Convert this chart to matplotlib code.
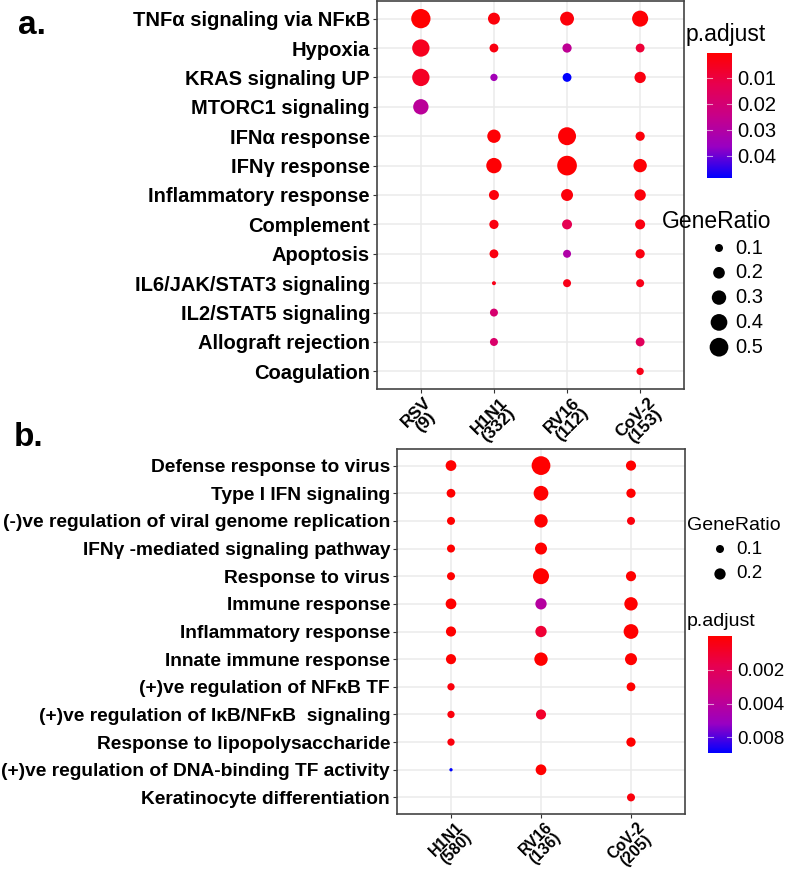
import numpy as np
import matplotlib
matplotlib.use('Agg')
import matplotlib.pyplot as plt
from matplotlib.colors import LinearSegmentedColormap, Normalize, LogNorm
from matplotlib.cm import ScalarMappable

plt.rcParams['font.family'] = ['Liberation Sans', 'DejaVu Sans']

nan = np.nan

# ---- panel a: hallmark gene sets ----
a_terms = ['TNFα signaling via NFκB', 'Hypoxia', 'KRAS signaling UP', 'MTORC1 signaling',
           'IFNα response', 'IFNγ response', 'Inflammatory response', 'Complement',
           'Apoptosis', 'IL6/JAK/STAT3 signaling', 'IL2/STAT5 signaling',
           'Allograft rejection', 'Coagulation']
a_groups = ['RSV\n(9)', 'H1N1\n(332)', 'RV16\n(112)', 'CoV-2\n(153)']
# GeneRatio, columns: RSV, H1N1, RV16, CoV-2
a_ratio = np.array([
    [0.53, 0.21, 0.28, 0.37],
    [0.43, 0.12, 0.13, 0.12],
    [0.43, 0.085, 0.12, 0.19],
    [0.34, nan, nan, nan],
    [nan, 0.26, 0.46, 0.13],
    [nan, 0.34, 0.55, 0.26],
    [nan, 0.15, 0.21, 0.19],
    [nan, 0.13, 0.15, 0.15],
    [nan, 0.12, 0.10, 0.13],
    [nan, 0.033, 0.10, 0.10],
    [nan, 0.10, nan, nan],
    [nan, 0.10, nan, 0.12],
    [nan, nan, nan, 0.085],
])
a_padj = np.array([
    [0.0004, 0.002, 0.002, 0.001],
    [0.005, 0.003, 0.027, 0.009],
    [0.006, 0.034, 0.0485, 0.003],
    [0.028, nan, nan, nan],
    [nan, 0.001, 0.001, 0.002],
    [nan, 0.001, 0.0008, 0.001],
    [nan, 0.002, 0.002, 0.002],
    [nan, 0.003, 0.013, 0.003],
    [nan, 0.003, 0.031, 0.003],
    [nan, 0.004, 0.004, 0.004],
    [nan, 0.019, nan, nan],
    [nan, 0.018, nan, 0.015],
    [nan, nan, nan, 0.004],
])
a_size_breaks = [0.1, 0.2, 0.3, 0.4, 0.5]
a_color_breaks = [0.01, 0.02, 0.03, 0.04]

# ---- panel b: GO biological process ----
b_terms = ['Defense response to virus', 'Type I IFN signaling',
           '(-)ve regulation of viral genome replication', 'IFNγ -mediated signaling pathway',
           'Response to virus', 'Immune response', 'Inflammatory response',
           'Innate immune response', '(+)ve regulation of NFκB TF',
           '(+)ve regulation of IκB/NFκB  signaling', 'Response to lipopolysaccharide',
           '(+)ve regulation of DNA-binding TF activity', 'Keratinocyte differentiation']
b_groups = ['H1N1\n(580)', 'RV16\n(136)', 'CoV-2\n(205)']
# GeneRatio, columns: H1N1, RV16, CoV-2
b_ratio = np.array([
    [0.18, 0.55, 0.16],
    [0.12, 0.34, 0.135],
    [0.10, 0.28, 0.10],
    [0.10, 0.225, nan],
    [0.10, 0.40, 0.16],
    [0.18, 0.20, 0.28],
    [0.16, 0.20, 0.34],
    [0.16, 0.28, 0.225],
    [0.083, nan, 0.12],
    [0.083, 0.16, nan],
    [0.083, nan, 0.135],
    [0.017, 0.18, nan],
    [nan, nan, 0.10],
])
b_padj = np.array([
    [0.001, 0.001, 0.001],
    [0.001, 0.001, 0.001],
    [0.001, 0.001, 0.0011],
    [0.001, 0.001, nan],
    [0.001, 0.001, 0.001],
    [0.001, 0.0042, 0.001],
    [0.001, 0.0015, 0.001],
    [0.001, 0.001, 0.001],
    [0.0011, nan, 0.001],
    [0.0011, 0.0014, nan],
    [0.0011, nan, 0.001],
    [0.011, 0.001, nan],
    [nan, nan, 0.0011],
])
b_size_breaks = [0.1, 0.2]
b_color_breaks = [0.002, 0.004, 0.008]

# red -> blue gradient (Lab-like interpolation, as in ggplot)
cmap = LinearSegmentedColormap.from_list(
    'rb', ['#FF0000', '#E7004F', '#C80088', '#9900C2', '#0000FF'])

W, H = 786, 873
fig = plt.figure(figsize=(W / 100, H / 100), dpi=100)


def size_a(v):
    return np.clip(371.7 * np.asarray(v) - 4.0, 1, None)


def size_b(v):
    return 331.8 * np.asarray(v)


def px_axes(l, t, r, b):
    return fig.add_axes([l / W, 1 - b / H, (r - l) / W, (b - t) / H])


def dot_panel(ax, terms, groups, ratio, padj, norm, sizefn, yfs, xfs):
    n, m = ratio.shape
    for j in range(m):
        ok = ~np.isnan(ratio[:, j])
        ys = np.arange(n)[ok]
        ax.scatter(np.full(ys.size, j), ys, s=sizefn(ratio[ok, j]),
                   c=cmap(norm(padj[ok, j])), linewidths=0, zorder=3)
    ax.set_xlim(-0.6, m - 0.4)
    ax.set_ylim(n - 0.4, -0.6)
    ax.set_xticks(range(m))
    ax.set_xticklabels(groups, rotation=45, ha='center', va='top',
                       fontsize=xfs, fontweight='bold', linespacing=0.85)
    ax.set_yticks(range(n))
    ax.set_yticklabels(terms, fontsize=yfs, fontweight='bold')
    ax.grid(True, color='#EBEBEB', linewidth=1.1, zorder=0)
    ax.set_axisbelow(True)
    ax.tick_params(length=3, width=0.8, color='#333333', pad=2, labelcolor='black')
    ax.tick_params(axis='x', pad=1)
    for sp in ax.spines.values():
        sp.set_color('#444444')
        sp.set_linewidth(1.2)


# panel a
norm_a = Normalize(np.nanmin(a_padj), np.nanmax(a_padj))
ax_a = px_axes(377, 1, 684, 389)
dot_panel(ax_a, a_terms, a_groups, a_ratio, a_padj, norm_a, size_a, 14.5, 12.5)

# panel b
norm_b = LogNorm(np.nanmin(b_padj), np.nanmax(b_padj))
ax_b = px_axes(397, 449, 685, 814)
dot_panel(ax_b, b_terms, b_groups, b_ratio, b_padj, norm_b, size_b, 13.8, 11.5)

# overlay for legends and panel letters, in pixel coordinates
ov = fig.add_axes([0, 0, 1, 1])
ov.set_xlim(0, W)
ov.set_ylim(H, 0)
ov.axis('off')
ov.text(18, 25, 'a.', fontsize=24, fontweight='bold', va='center')
ov.text(14, 438, 'b.', fontsize=24, fontweight='bold', va='center')


def colorbar(title_xy, bar, norm, breaks, tfs, lfs):
    ov.text(title_xy[0], title_xy[1], 'p.adjust', fontsize=tfs, va='center')
    cax = px_axes(*bar)
    cb = fig.colorbar(ScalarMappable(norm=norm, cmap=cmap), cax=cax)
    cb.outline.set_visible(False)
    cb.ax.minorticks_off()
    cb.set_ticks(breaks)
    cb.set_ticklabels([str(b) for b in breaks])
    cax.invert_yaxis()
    cax.tick_params(length=0, pad=4, labelsize=lfs)
    for b in breaks:
        cax.plot([0, 0.2], [b, b], color='white', lw=0.8, alpha=0.6,
                 transform=cax.get_yaxis_transform())
        cax.plot([0.8, 1], [b, b], color='white', lw=0.8, alpha=0.6,
                 transform=cax.get_yaxis_transform())


def size_legend(title_xy, x0, y0, dy, breaks, sizefn, tfs, lfs):
    ov.text(title_xy[0], title_xy[1], 'GeneRatio', fontsize=tfs, va='center')
    ys = y0 + dy * np.arange(len(breaks))
    ov.scatter(np.full(len(breaks), x0), ys, s=sizefn(breaks), c='black', linewidths=0)
    for y, b in zip(ys, breaks):
        ov.text(x0 + 16, y, str(b), fontsize=lfs, va='center')


colorbar((686, 34), (707, 53, 732, 178), norm_a, a_color_breaks, 16.5, 14.5)
size_legend((662, 221), 719, 248, 24.8, a_size_breaks, size_a, 16.5, 14.5)

size_legend((687, 525), 720, 549, 25, b_size_breaks, size_b, 14, 13.5)
colorbar((687, 622), (708, 636, 732, 753), norm_b, b_color_breaks, 14, 13.5)

fig.savefig('out.png', dpi=100)
